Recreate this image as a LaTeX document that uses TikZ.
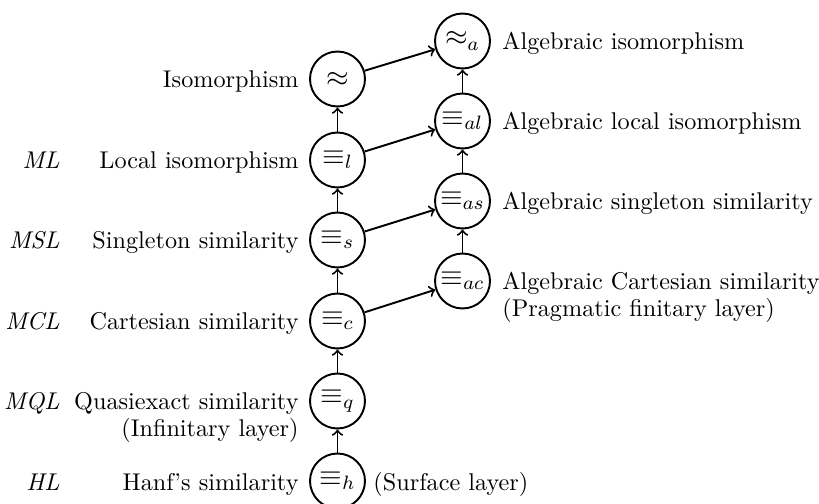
\documentclass[tikz,border=0pt]{standalone}
\begin{document}
\begin{tikzpicture}[x=0.413pt,y=-0.413pt,
  st/.style={circle,draw,line width=0.8pt,minimum size=22.7pt,inner sep=0.5pt,font=\large},
  arr/.style={->,line width=0.8pt},
  ll/.style={anchor=base east,inner sep=0pt},
  rl/.style={anchor=base west,inner sep=0pt}]
\useasboundingbox (0,0) rectangle (819,504);
% left column
\node[st] (iso) at (337.5,79) {$\approx$};
\node[st] (l) at (337.5,160) {$\equiv_l$};
\node[st] (s) at (337.5,240) {$\equiv_s$};
\node[st] (c) at (337.5,321) {$\equiv_c$};
\node[st] (q) at (337.5,401) {$\equiv_q$};
\node[st] (h) at (337.5,481) {$\equiv_h$};
% right column
\node[st] (a) at (462.5,41) {$\approx_a$};
\node[st] (al) at (462.5,121) {$\equiv_{al}$};
\node[st] (as) at (462.5,201) {$\equiv_{as}$};
\node[st] (ac) at (462.5,281) {$\equiv_{ac}$};
% arrows
\draw[arr] (l) -- (iso);
\draw[arr] (s) -- (l);
\draw[arr] (c) -- (s);
\draw[arr] (q) -- (c);
\draw[arr] (h) -- (q);
\draw[arr] (al) -- (a);
\draw[arr] (as) -- (al);
\draw[arr] (ac) -- (as);
\draw[arr] (iso) -- (a);
\draw[arr] (l) -- (al);
\draw[arr] (s) -- (as);
\draw[arr] (c) -- (ac);
% left labels
\node[ll] (tiso) at (299,88) {Isomorphism};
\node[ll] (tl) at (299,169) {Local isomorphism};
\node[ll] (ts) at (299,249) {Singleton similarity};
\node[ll] (tc) at (299,330) {Cartesian similarity};
\node[ll] (tq) at (299,410) {\begin{tabular}[t]{@{}r@{}}Quasiexact similarity\\[-1pt](Infinitary layer)\end{tabular}};
\node[ll] (th) at (299,490) {Hanf's similarity};
% far-left labels
\node[ll] (ml) at (60,169) {\textit{ML}};
\node[ll] (msl) at (60,249) {\textit{MSL}};
\node[ll] (mcl) at (60,330) {\textit{MCL}};
\node[ll] (mql) at (60,410) {\textit{MQL}};
\node[ll] (hl) at (60,490) {\textit{HL}};
% right labels
\node[rl] (ta) at (502,50) {Algebraic isomorphism};
\node[rl] (tal) at (502,130) {Algebraic local isomorphism};
\node[rl] (tas) at (502,210) {Algebraic singleton similarity};
\node[rl] (tac) at (502,290) {\begin{tabular}[t]{@{}l@{}}Algebraic Cartesian similarity\\[-1pt](Pragmatic finitary layer)\end{tabular}};
\node[rl] (th2) at (373,490) {(Surface layer)};
\end{tikzpicture}
\end{document}
